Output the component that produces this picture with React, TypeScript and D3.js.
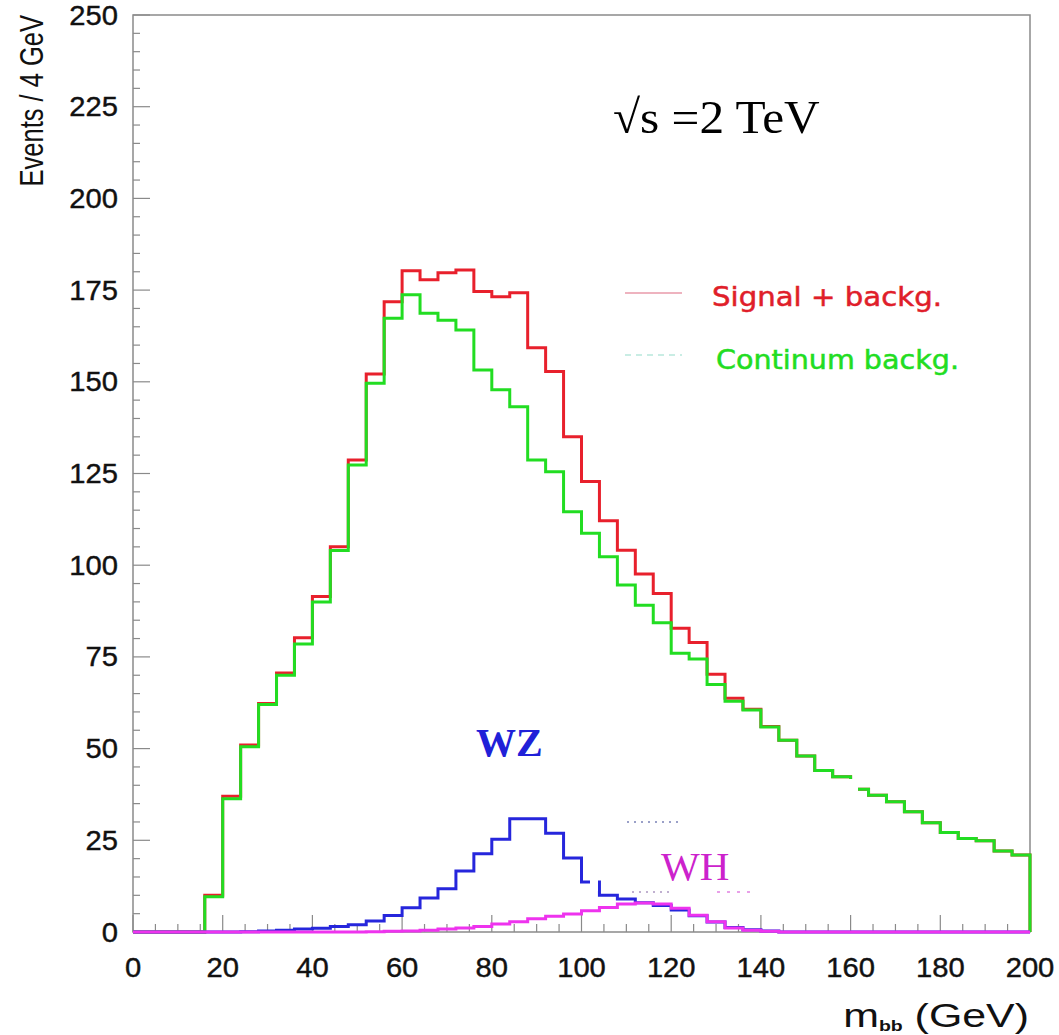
import React from 'react';
import * as d3 from 'd3';

const binWidth = 4;
const xTickLabels = [0, 20, 40, 60, 80, 100, 120, 140, 160, 180, 200];
const yTickLabels = [0, 25, 50, 75, 100, 125, 150, 175, 200, 225, 250];

const signalPlusBkg = [
  0, 0, 0, 0, 10, 37, 51, 62.3, 70.6, 80.2, 91.5, 105,
  128.7, 152.1, 171.8, 180.3, 177.8, 179.7, 180.5, 174.6,
  173.2, 174.3, 159.3, 152.8, 135, 122.8, 112.1, 104.1,
  97.6, 92.3, 82.8, 78.9, 70.3, 63.7, 60.7, 56,
  52.3, 48, 44, 42.3, 38.9, 37.3, 35.5, 32.8,
  29.8, 27.1, 25.5, 24.9, 22.1, 21,
];

const continuum = [
  0, 0, 0, 0, 9.6, 36.3, 50.5, 62, 70, 78.5, 90, 104,
  127.3, 149.6, 167.3, 173.7, 168.7, 166.8, 164.1, 153.2,
  147.8, 143.2, 128.7, 125.5, 114.6, 108.7, 102.3, 94.6,
  89.1, 84.3, 76, 74.4, 67.5, 62.9, 60.5, 55.9,
  52.3, 48, 44, 42.3, 38.9, 37.3, 35.5, 32.8,
  29.8, 27.1, 25.5, 24.9, 22.1, 21,
];

const wz = [
  0, 0, 0, 0, 0, 0, 0.1,
  0.3, 0.5, 0.8, 1, 1.5, 2, 3, 4.5, 6.6,
  9.3, 11.8, 16.6, 21.3, 25.3,
  30.9, 30.9, 26.9, 20.2, 13.6,
  10, 9, 8, 7.2, 6,
  4.4, 2.7, 1.2, 0.6, 0.3,
  0, 0, 0, 0, 0, 0, 0, 0, 0, 0, 0, 0, 0, 0,
];

const wh = [
  0, 0, 0, 0, 0, 0, 0, 0, 0, 0, 0, 0, 0,
  0.1, 0.2, 0.3, 0.5, 0.8, 1.1, 1.5, 2.2, 2.8, 3.6, 4.3, 4.9,
  5.8, 6.7, 7.6, 7.9, 7.6, 6.5, 4.6, 2.8, 1.1, 0.5, 0.2,
  0, 0, 0, 0, 0, 0, 0, 0, 0, 0, 0, 0, 0, 0,
];

const W = 1059;
const H = 1035;
const x = d3.scaleLinear().domain([0, 200]).range([133, 1030]);
const y = d3.scaleLinear().domain([0, 250]).range([932, 15]);

function histPath(vals: number[]): string {
  const n = vals.length;
  const pts: [number, number][] = [[0, 0]];
  vals.forEach((v, i) => pts.push([i * binWidth, v]));
  pts.push([n * binWidth, vals[n - 1]]);
  pts.push([n * binWidth, 0]);
  return (
    d3
      .line<[number, number]>()
      .x((d) => x(d[0]))
      .y((d) => y(d[1]))
      .curve(d3.curveStepAfter)(pts) || ''
  );
}

const axisColor = '#8a8a8a';
const sansFont = '"Liberation Sans", Arial, sans-serif';
const serifFont = '"Liberation Serif", "Times New Roman", serif';
const legendFont = '"DejaVu Sans", sans-serif';

export default function App() {
  const xMinor = d3.range(0, 201, 5);
  const yMinor = d3.range(0, 251, 5);
  return (
    <div style={{ position: 'absolute', left: 0, top: 0 }}>
      <svg width={W} height={H} style={{ display: 'block', background: '#fff' }}>
        {/* frame */}
        <rect
          x={x(0)}
          y={y(250)}
          width={x(200) - x(0)}
          height={y(0) - y(250)}
          fill="none"
          stroke={axisColor}
          strokeWidth={1.5}
        />
        {/* x ticks */}
        {xMinor.map((t) => {
          const major = t % 20 === 0;
          return (
            <line
              key={'xt' + t}
              x1={x(t)}
              x2={x(t)}
              y1={y(0)}
              y2={y(0) - (major ? 17 : 8)}
              stroke={axisColor}
              strokeWidth={1.2}
            />
          );
        })}
        {/* y ticks */}
        {yMinor.map((t) => {
          const major = t % 25 === 0;
          return (
            <line
              key={'yt' + t}
              x1={x(0)}
              x2={x(0) + (major ? 17 : 7)}
              y1={y(t)}
              y2={y(t)}
              stroke={axisColor}
              strokeWidth={1.2}
            />
          );
        })}
        {/* tick labels */}
        {xTickLabels.map((t) => (
          <text
            key={'xl' + t}
            transform={`translate(${x(t)}, 977) scale(1.08, 1)`}
            textAnchor="middle"
            fontFamily={sansFont}
            fontSize={27}
            fill="#111"
            stroke="#111"
            strokeWidth={0.4}
          >
            {t}
          </text>
        ))}
        {yTickLabels.map((t) => (
          <text
            key={'yl' + t}
            transform={`translate(118, ${y(t) + 9.5}) scale(1.08, 1)`}
            textAnchor="end"
            fontFamily={sansFont}
            fontSize={27}
            fill="#111"
            stroke="#111"
            strokeWidth={0.4}
          >
            {t}
          </text>
        ))}
        {/* axis titles */}
        <text
          transform={`translate(43, 15) scale(1.3, 1) rotate(-90)`}
          textAnchor="end"
          fontFamily={sansFont}
          fontSize={25.5}
          fill="#111"
        >
          Events / 4 GeV
        </text>
        <text
          transform={`translate(1029, 1027) scale(1.3, 1)`}
          textAnchor="end"
          fontFamily={sansFont}
          fontSize={33}
          fill="#111"
        >
          m
          <tspan fontSize={15} fontWeight="bold" dy={4}>bb</tspan>
          <tspan dy={-4}> (GeV)</tspan>
        </text>

        {/* artifacts: faint dotted lines */}
        <line x1={627} x2={683} y1={822} y2={822} stroke="#9aa0c8" strokeWidth={2} strokeDasharray="2,5" />
        <line x1={632} x2={673} y1={892} y2={892} stroke="#c0b0d0" strokeWidth={2} strokeDasharray="2,5" />
        <line x1={717} x2={755} y1={892} y2={892} stroke="#e8a0e8" strokeWidth={2} strokeDasharray="3,7" />

        {/* histograms */}
        <path d={histPath(signalPlusBkg)} fill="none" stroke="#e8202c" strokeWidth={3} />
        <path d={histPath(continuum)} fill="none" stroke="#22dd22" strokeWidth={3} />
        <path d={histPath(wz)} fill="none" stroke="#2626dc" strokeWidth={3} />
        <path d={histPath(wh)} fill="none" stroke="#ee33ee" strokeWidth={3} />

        {/* white gaps from pasted labels */}
        <rect x={590} y={877} width={8} height={14} fill="#fff" />
        <rect x={849} y={779} width={9} height={13} fill="#fff" />

        {/* legend */}
        <line x1={625} x2={682} y1={293} y2={293} stroke="#e89aaa" strokeWidth={1.5} />
        <text x={712} y={306} fontFamily={legendFont} fontSize={26} fill="#e01e2a" stroke="#e01e2a" strokeWidth={0.5} textLength={230} lengthAdjust="spacingAndGlyphs">
          Signal + backg.
        </text>
        <line x1={625} x2={682} y1={355} y2={355} stroke="#b8e8dc" strokeWidth={1.5} strokeDasharray="6,5" />
        <text x={716} y={369} fontFamily={legendFont} fontSize={26} fill="#22dd22" stroke="#22dd22" strokeWidth={0.5} textLength={243} lengthAdjust="spacingAndGlyphs">
          Continum backg.
        </text>

        {/* annotations */}
        <text transform="translate(613, 133) scale(1.05, 1)" fontFamily={serifFont} fontSize={47} fill="#000">
          √s =2 TeV
        </text>
        <text x={476} y={756} fontFamily={serifFont} fontSize={40} fontWeight="bold" fill="#2020d8">
          WZ
        </text>
        <text x={661} y={880} fontFamily={serifFont} fontSize={41} fill="#cc22cc">
          WH
        </text>
      </svg>
    </div>
  );
}
